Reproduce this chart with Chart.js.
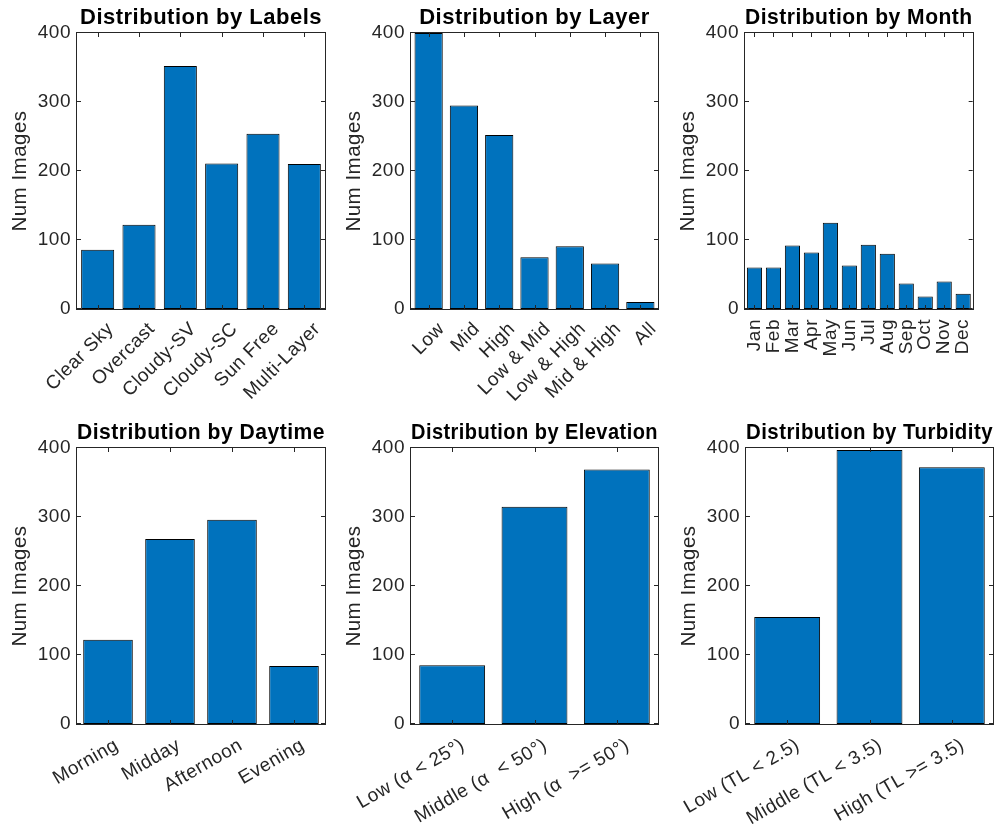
<!DOCTYPE html>
<html>
<head>
<meta charset="utf-8">
<script src="https://cdn.jsdelivr.net/npm/chart.js@4/dist/chart.umd.min.js"></script>
<style>
  html, body { margin: 0; padding: 0; background: #ffffff; }
  #wrap { position: relative; width: 997px; height: 830px; overflow: hidden; }
  #wrap canvas { position: absolute; left: 0; top: 0; }
</style>
</head>
<body>
<div id="wrap"></div>
<script>
// ---- data ----
const labelCats = ['Clear Sky', 'Overcast', 'Cloudy-SV', 'Cloudy-SC', 'Sun Free', 'Multi-Layer'];
const labelCounts = [86, 122, 352, 211, 254, 210];

const layerCats = ['Low', 'Mid', 'High', 'Low & Mid', 'Low & High', 'Mid & High', 'All'];
const layerCounts = [400, 295, 252, 75, 91, 66, 10];

const monthCats = ['Jan', 'Feb', 'Mar', 'Apr', 'May', 'Jun', 'Jul', 'Aug', 'Sep', 'Oct', 'Nov', 'Dec'];
const monthCounts = [60, 60, 92, 82, 125, 63, 93, 80, 37, 18, 40, 22];

const daytimeCats = ['Morning', 'Midday', 'Afternoon', 'Evening'];
const daytimeCounts = [122, 268, 296, 84];

const elevationCats = ['Low (\u03B1 < 25\u00B0)', 'Middle (\u03B1  < 50\u00B0)', 'High (\u03B1  >= 50\u00B0)'];
const elevationCounts = [85, 315, 369];

const turbidityCats = ['Low (TL < 2.5)', 'Middle (TL < 3.5)', 'High (TL >= 3.5)'];
const turbidityCounts = [155, 397, 372];

const countTicks = [0, 100, 200, 300, 400];

// ---- layout of the 2x3 grid ----
const W = 997, H = 830;
const Y_AXIS_W = 70;     // room for tick labels + axis title
const X_AXIS_H = 100;
const TITLE_SIZE = 22;
const TITLE_GAP = 2;
const TICK_LEN = 4;
const INK = '#262626';
const BAR = '#0072BD';

const panels = [
  { title: 'Distribution by Labels',    cats: labelCats,     vals: labelCounts,     box: [77, 325, 33, 309],  rot: 45, shift: 13, pad: 9 },
  { title: 'Distribution by Layer',     cats: layerCats,     vals: layerCounts,     box: [411, 658, 33, 309], rot: 45, shift: 13, pad: 9 },
  { title: 'Distribution by Month',     cats: monthCats,     vals: monthCounts,     box: [745, 993, 33, 309], rot: 90, shift: 0,  pad: 10 },
  { title: 'Distribution by Daytime',   cats: daytimeCats,   vals: daytimeCounts,   box: [77, 325, 448, 724], rot: 30, shift: 9,  pad: 10 },
  { title: 'Distribution by Elevation', cats: elevationCats, vals: elevationCounts, box: [411, 658, 448, 724], rot: 30, shift: 11, pad: 10 },
  { title: 'Distribution by Turbidity', cats: turbidityCats, vals: turbidityCounts, box: [746, 993, 448, 724], rot: 30, shift: 11, pad: 10 }
];

Chart.defaults.font.family = "'Liberation Sans', Arial, Helvetica, sans-serif";
Chart.defaults.color = INK;

// slightly open letter spacing for all text on the canvas
const spacing = {
  id: 'spacing',
  beforeUpdate(chart) { chart.ctx.letterSpacing = '0.5px'; },
  beforeDraw(chart) { chart.ctx.letterSpacing = '0.5px'; }
};

// boxed axes with inward ticks on all four sides
const axesBox = {
  id: 'axesBox',
  afterDatasetsDraw(chart) {
    const { ctx, chartArea: a, scales: { x, y } } = chart;
    ctx.save();
    ctx.strokeStyle = INK;
    ctx.lineWidth = 1;
    ctx.beginPath();
    y.ticks.forEach(t => {
      const py = Math.round(y.getPixelForValue(t.value)) - 0.5;
      ctx.moveTo(a.left, py); ctx.lineTo(a.left + TICK_LEN, py);
      ctx.moveTo(a.right, py); ctx.lineTo(a.right - TICK_LEN, py);
    });
    x.ticks.forEach((t, i) => {
      const px = Math.round(x.getPixelForTick(i)) + 0.5;
      ctx.moveTo(px, a.bottom); ctx.lineTo(px, a.bottom - TICK_LEN);
      ctx.moveTo(px, a.top); ctx.lineTo(px, a.top + TICK_LEN);
    });
    ctx.stroke();
    ctx.strokeRect(Math.round(a.left) - 0.5, Math.round(a.top) - 0.5,
                   Math.round(a.right) - Math.round(a.left) + 1, Math.round(a.bottom) - Math.round(a.top) + 1);
    ctx.restore();
  }
};

const wrap = document.getElementById('wrap');

panels.forEach(p => {
  const [left, right, top, bottom] = p.box;
  const canvas = document.createElement('canvas');
  canvas.width = W;
  canvas.height = H;
  wrap.appendChild(canvas);

  new Chart(canvas, {
    type: 'bar',
    data: {
      labels: p.cats,
      datasets: [{
        data: p.vals,
        backgroundColor: BAR,
        borderColor: '#000000',
        borderWidth: 1,
        borderSkipped: false,
        barPercentage: 0.8,
        categoryPercentage: 1.0
      }]
    },
    options: {
      responsive: false,
      animation: false,
      devicePixelRatio: 1,
      events: [],
      layout: {
        padding: {
          left: left - Y_AXIS_W,
          right: W - right,
          top: top - TITLE_SIZE * 1.2 - TITLE_GAP,
          bottom: H - bottom - X_AXIS_H
        }
      },
      plugins: {
        legend: { display: false },
        tooltip: { enabled: false },
        title: {
          display: true,
          text: p.title,
          fullSize: false,
          color: '#000000',
          font: { size: TITLE_SIZE, weight: 'bold' },
          padding: { top: 0, bottom: TITLE_GAP }
        }
      },
      scales: {
        x: {
          type: 'category',
          offset: true,
          grid: { display: false, drawTicks: false },
          border: { display: false },
          ticks: {
            autoSkip: false,
            minRotation: p.rot,
            maxRotation: p.rot,
            padding: p.pad,
            labelOffset: p.shift,
            color: INK,
            font: { size: 19 }
          },
          afterFit(s) { s.height = X_AXIS_H; }
        },
        y: {
          min: 0,
          max: 400,
          grid: { display: false, drawTicks: false },
          border: { display: false },
          ticks: { padding: 6, color: INK, font: { size: 19 } },
          afterBuildTicks(s) { s.ticks = countTicks.map(v => ({ value: v })); },
          title: {
            display: true,
            text: 'Num Images',
            color: INK,
            font: { size: 20.5 },
            padding: { top: 1, bottom: 0 }
          },
          afterFit(s) { s.width = Y_AXIS_W; }
        }
      }
    },
    plugins: [spacing, axesBox]
  });
});
</script>
</body>
</html>
